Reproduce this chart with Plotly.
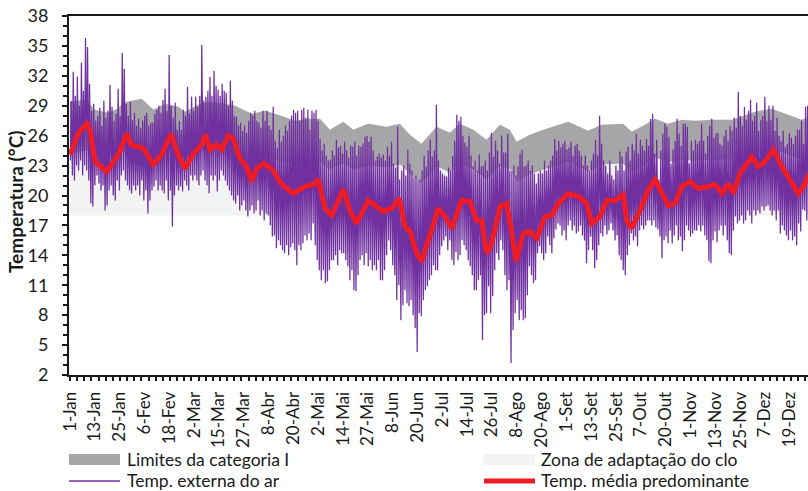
import plotly.graph_objects as go

# ---------------- data ----------------
# daily maximum / minimum of the outdoor air temperature, day 0 = 1-Jan
tmax = [
    29.5, 32.4, 30.0, 31.9, 29.0, 33.3, 30.5, 35.8, 34.9, 31.2,
    28.5, 29.2, 27.5, 28.0, 28.8, 27.0, 29.5, 27.8, 28.5, 31.1,
    28.9, 27.5, 28.2, 30.7, 28.0, 34.3, 32.7, 29.2, 28.0, 29.4,
    27.6, 28.3, 27.0, 27.7, 26.8, 27.5, 28.0, 28.3, 27.0, 27.3,
    27.3, 28.2, 28.6, 29.0, 28.3, 29.6, 30.7, 28.5, 34.1, 29.0,
    27.8, 29.3, 26.6, 27.5, 26.6, 28.6, 28.0, 30.9, 28.2, 29.9,
    28.5, 29.9, 28.9, 30.0, 35.1, 29.5, 29.9, 30.5, 31.9, 30.0,
    32.5, 31.0, 30.6, 30.0, 31.2, 30.5, 30.3, 29.0, 31.5, 29.5,
    28.0, 27.9, 27.0, 27.3, 26.5, 27.0, 26.3, 27.5, 28.3, 28.0,
    28.5, 27.5, 27.3, 26.8, 28.5, 27.5, 28.5, 27.0, 26.6, 28.9,
    25.5, 24.8, 26.6, 25.4, 26.0, 27.0, 26.5, 27.5, 28.0, 28.6,
    28.3, 28.5, 27.5, 28.6, 28.8, 27.8, 28.6, 26.6, 28.5, 28.3,
    28.6, 27.5, 25.7, 24.5, 25.2, 24.0, 23.5, 23.6, 24.5, 24.0,
    25.6, 24.8, 25.0, 24.2, 25.4, 24.5, 23.8, 25.0, 24.9, 25.4,
    24.0, 25.0, 24.9, 25.2, 25.9, 26.0, 25.4, 25.9, 24.5, 23.5,
    23.9, 24.2, 23.8, 24.1, 23.5, 24.9, 24.0, 25.4, 23.2, 22.8,
    26.9, 21.6, 22.5, 23.0, 22.0, 24.6, 23.2, 22.5, 21.8, 22.0,
    21.5, 21.6, 22.5, 24.0, 22.9, 24.5, 25.6, 23.9, 24.5, 29.1,
    23.5, 22.5, 22.2, 22.0, 21.9, 22.8, 22.5, 24.0, 25.5, 28.1,
    27.5, 27.9, 26.0, 25.3, 24.9, 26.0, 24.0, 22.9, 23.5, 22.5,
    24.1, 22.9, 23.0, 23.5, 22.5, 24.3, 26.3, 23.9, 25.5, 24.5,
    23.2, 26.0, 24.3, 24.3, 26.2, 22.5, 22.4, 23.0, 22.0, 22.9,
    24.2, 24.6, 22.9, 23.0, 23.5, 22.5, 23.0, 22.2, 21.2, 22.2,
    22.5, 22.2, 23.5, 22.5, 23.0, 23.5, 24.0, 25.7, 24.5, 25.5,
    24.8, 25.2, 25.5, 24.6, 24.8, 25.4, 24.0, 25.0, 25.2, 24.5,
    24.0, 23.0, 24.0, 23.0, 22.5, 23.5, 24.2, 25.6, 24.0, 28.0,
    25.2, 23.5, 23.0, 22.2, 23.5, 22.0, 21.6, 23.0, 22.5, 24.4,
    23.9, 22.5, 24.4, 24.9, 23.5, 25.2, 24.5, 26.2, 24.2, 25.6,
    25.0, 24.5, 25.7, 25.0, 27.7, 28.2, 24.2, 25.6, 21.6, 24.5,
    26.2, 27.2, 26.9, 25.9, 23.2, 24.6, 25.5, 27.7, 26.2, 25.0,
    27.2, 27.2, 26.9, 23.2, 25.5, 24.5, 25.6, 25.2, 25.5, 27.2,
    25.5, 24.2, 26.0, 27.0, 27.7, 25.8, 26.2, 26.3, 25.2, 25.0,
    26.0, 26.6, 25.5, 27.0, 26.5, 27.8, 26.8, 30.4, 28.0, 27.0,
    28.9, 27.6, 28.5, 29.6, 27.5, 28.0, 29.3, 26.5, 27.6, 28.0,
    29.9, 27.5, 29.0, 27.6, 29.0, 26.5, 27.8, 26.0, 25.5, 26.5,
    24.9, 25.2, 26.3, 25.8, 25.2, 26.0, 26.6, 26.6, 27.5, 25.2,
    28.9, 29.0, 27.9, 27.0, 28.0,
]
tmin = [
    23.5, 22.0, 21.5, 23.0, 22.5, 23.5, 22.0, 23.0, 22.5, 21.5,
    19.2, 18.9, 21.0, 22.0, 21.2, 20.5, 21.0, 18.5, 19.0, 20.5,
    21.0, 20.0, 19.5, 21.5, 20.5, 22.0, 22.5, 21.5, 21.0, 20.5,
    20.2, 21.0, 20.5, 21.0, 20.0, 21.5, 19.5, 20.5, 18.2, 19.5,
    20.5, 20.9, 21.5, 20.5, 21.0, 20.5, 20.2, 21.5, 19.5, 20.5,
    16.9, 20.0, 21.0, 20.5, 20.9, 20.4, 21.5, 21.0, 20.5, 22.0,
    21.5, 22.0, 21.5, 21.0, 22.0, 22.5, 21.5, 21.0, 20.2, 22.0,
    21.5, 22.0, 20.4, 21.5, 22.5, 22.0, 21.5, 21.0, 20.5, 20.0,
    19.5, 19.2, 20.0, 18.5, 19.0, 19.5, 18.5, 17.9, 18.5, 19.0,
    18.2, 18.5, 19.5, 18.0, 18.5, 17.5, 18.2, 18.0, 17.0, 15.9,
    16.0, 14.7, 15.5, 15.0, 14.5, 14.2, 15.0, 14.0, 14.8, 15.2,
    14.5, 13.0, 15.0, 14.5, 15.2, 16.0, 15.5, 16.2, 15.5, 17.2,
    15.0, 13.5, 12.5, 11.5, 12.5, 11.2, 11.4, 12.5, 13.5, 13.5,
    14.0, 13.0, 14.5, 14.2, 14.2, 13.5, 12.9, 11.5, 12.5, 10.5,
    10.4, 12.0, 13.5, 14.0, 13.0, 14.2, 12.9, 13.5, 12.5, 13.0,
    12.5, 13.5, 11.5, 11.5, 12.5, 14.0, 15.5, 14.5, 13.0, 12.0,
    9.5, 11.0, 7.5, 9.0, 10.5, 9.2, 8.9, 9.5, 8.0, 6.7,
    4.3, 8.2, 7.9, 9.5, 10.5, 10.9, 11.5, 12.0, 13.0, 12.5,
    12.5, 14.0, 14.9, 15.5, 15.9, 14.5, 15.5, 13.5, 13.0, 14.3,
    13.5, 14.0, 15.5, 15.0, 14.5, 13.5, 12.9, 12.0, 10.5, 10.5,
    11.5, 12.0, 5.5, 8.0, 8.2, 10.9, 8.2, 9.9, 12.5, 14.2,
    13.5, 15.5, 14.5, 12.0, 10.5, 11.5, 3.2, 6.5, 8.2, 9.5,
    7.5, 8.5, 7.5, 7.7, 10.0, 12.9, 12.0, 11.2, 11.5, 14.2,
    14.9, 14.2, 13.5, 14.2, 15.9, 15.0, 14.2, 15.7, 16.6, 17.2,
    17.0, 16.0, 16.5, 15.5, 17.0, 17.5, 16.5, 17.0, 16.2, 16.4,
    17.0, 16.0, 15.5, 13.2, 14.5, 15.9, 14.5, 12.7, 13.5, 15.0,
    16.2, 15.9, 17.0, 16.1, 16.5, 17.2, 16.5, 15.5, 16.0, 14.0,
    13.5, 12.5, 12.0, 14.0, 15.0, 16.2, 15.5, 15.9, 14.9, 16.5,
    17.0, 16.6, 17.0, 17.5, 17.5, 17.0, 17.5, 16.8, 16.6, 15.9,
    13.7, 15.5, 15.9, 15.2, 16.5, 15.2, 16.0, 17.0, 15.5, 15.9,
    14.4, 15.5, 17.0, 16.5, 15.9, 16.2, 16.5, 16.5, 17.0, 16.4,
    17.0, 16.0, 15.5, 13.4, 13.2, 15.5, 16.4, 15.3, 16.5, 17.0,
    16.0, 17.0, 15.5, 14.2, 14.0, 16.5, 17.9, 17.2, 17.5, 18.0,
    17.2, 17.5, 18.5, 18.0, 17.2, 18.5, 18.0, 18.5, 18.2, 18.9,
    18.5, 18.9, 19.0, 18.5, 18.0, 18.5, 17.5, 18.5, 16.2, 17.0,
    16.5, 16.0, 15.5, 16.5, 15.5, 15.9, 15.0, 17.2, 16.4, 18.6,
    18.5, 17.5, 19.0, 19.0, 19.5,
]

# running mean temperature (Temp. média predominante): day -> value
trm_day = [0, 4, 8.2, 9.8, 12.3, 18, 23.7, 27.8, 30, 36, 40.8, 45, 49.5, 53, 56.4,
           60.5, 64.5, 66.5, 68.6, 71.9, 74.3, 77.6, 80, 83.3, 86.6, 89, 91.5, 94.8,
           98.9, 103.8, 109.5, 115.2, 119.3, 121.7, 125, 128.3, 134, 137.3, 140.5,
           146.2, 153.6, 157.7, 161.4, 164.2, 166.7, 170, 172.4, 175.6, 180.5, 183.8,
           187.1, 192, 196, 199.3, 201.8, 204.3, 206.7, 210.8, 214, 216.5, 218.6,
           222.2, 225.5, 228.8, 232.8, 236.1, 239.4, 244.3, 249.2, 253.3, 255.7,
           259.8, 263.1, 267.2, 271.2, 272.9, 275.3, 279.4, 283.5, 286.8, 290,
           293.3, 296.6, 299.8, 303.9, 308, 312.9, 316.2, 319.5, 322.7, 325.1,
           328.4, 334.2, 337.4, 340.7, 344.8, 348.9, 352.9, 357, 359.5, 361.6, 364]
trm_val = [24.1, 26.2, 27.2, 26.6, 23.4, 22.4, 24.1, 26.2, 25.1, 24.7, 23.1, 24.1, 26.2,
           24.1, 22.7, 24.2, 25.1, 26.1, 24.6, 25.1, 24.6, 26.0, 25.7, 23.7, 22.9, 21.4,
           22.7, 23.2, 22.7, 21.1, 20.2, 20.9, 21.1, 21.6, 18.7, 18.0, 20.6, 18.4, 17.2,
           19.5, 18.4, 18.7, 19.7, 16.9, 16.4, 14.2, 13.4, 15.5, 18.7, 17.9, 16.7, 19.5,
           19.4, 17.5, 17.5, 14.2, 15.2, 18.9, 19.2, 16.4, 13.4, 16.2, 16.4, 15.7, 17.9,
           18.0, 19.2, 20.2, 19.9, 19.2, 17.2, 17.9, 19.5, 19.5, 20.1, 17.5, 16.7, 18.5,
           20.6, 21.6, 20.2, 19.0, 19.2, 20.9, 21.4, 20.7, 20.9, 21.1, 20.2, 21.2, 20.2,
           22.2, 23.9, 22.9, 23.4, 24.6, 22.9, 21.6, 20.2, 20.9, 21.9, 22.5]

# category I limits (upper / lower)
up_day = [0, 7.4, 12.3, 18.8, 22.1, 27.8, 35.1, 40.9, 46.6, 53.1, 56.4, 62.9, 67.8, 76,
          80.9, 89.1, 95.6, 102.1, 110.3, 117.6, 122.5, 127.4, 134, 138.8, 146.2, 155.2,
          161.7, 166.6, 172.3, 179.7, 186.2, 191.1, 197.7, 204.2, 210.7, 215.6, 218.9,
          225.4, 232, 239.3, 244.2, 254, 260.6, 271.2, 275.3, 281.8, 286.7, 293.3,
          299.8, 306.3, 314.5, 324.3, 329.2, 335.7, 343.9, 352.1, 358.6, 364]
up_val = [29.4, 29.6, 28.6, 28.3, 28.6, 29.4, 29.7, 28.6, 29.2, 28.9, 28.4, 29.1, 29.4,
          29.2, 29.0, 28.2, 28.5, 28.1, 27.5, 27.7, 27.7, 26.6, 27.4, 26.6, 27.2, 26.9,
          27.2, 26.1, 25.2, 26.9, 26.3, 27.2, 26.6, 25.6, 27.1, 26.6, 25.4, 26.1, 26.6,
          27.1, 27.4, 26.5, 27.1, 27.2, 26.4, 27.1, 27.7, 27.2, 27.6, 27.5, 27.6, 27.6,
          27.9, 28.4, 28.7, 28.1, 27.6, 27.9]
low_day = [0, 8, 14, 19, 28, 35, 41, 47, 53, 57, 63, 68, 76, 81, 89, 96, 102, 110, 119,
           123, 127, 134, 139, 146, 155, 162, 167, 172, 180, 186, 191, 198, 204, 211,
           216, 219, 225, 232, 239, 244, 254, 261, 271, 275, 282, 287, 293, 300, 306,
           315, 324, 329, 336, 344, 352, 359, 364]
low_val = [24.2, 24.5, 24.3, 24.0, 24.5, 24.6, 24.2, 24.5, 24.4, 24.1, 24.4, 24.6, 24.5,
           24.3, 23.6, 23.8, 23.5, 23.1, 23.0, 23.3, 22.6, 23.2, 22.6, 23.0, 22.8, 23.1,
           22.1, 21.2, 22.9, 22.3, 23.2, 22.6, 21.6, 23.0, 22.6, 21.4, 22.1, 22.6, 23.0,
           23.4, 22.4, 23.1, 23.2, 22.4, 23.1, 23.8, 23.3, 23.6, 23.5, 23.6, 23.6, 23.9,
           24.4, 24.7, 24.1, 23.6, 23.9]

zone_floor = 18  # lower edge of the clo adaptation zone (°C)

tick_labels = ["1-Jan", "13-Jan", "25-Jan", "6-Fev", "18-Fev", "2-Mar", "15-Mar",
               "27-Mar", "8-Abr", "20-Abr", "2-Mai", "14-Mai", "27-Mai", "8-Jun",
               "20-Jun", "2-Jul", "14-Jul", "26-Jul", "8-Ago", "20-Ago", "1-Set",
               "13-Set", "25-Set", "7-Out", "20-Out", "1-Nov", "13-Nov", "25-Nov",
               "7-Dez", "19-Dez"]
label_step_hours = 292
y_ticks = [2, 5, 8, 11, 14, 17, 20, 23, 26, 29, 32, 35, 38]

# ---------------- build figure ----------------
FONT = "Lato"
TXT = "#1a1a1a"
PURPLE = "#7030A0"
RED = "#EE1C25"
DARK = "#A6A6A8"
LIGHT = "#F2F3F3"

# hourly-like outdoor curve: daily minimum early morning, maximum in afternoon
ext_x, ext_y = [], []
for d in range(len(tmax)):
    ext_x += [d + 0.2, d + 0.6]
    ext_y += [tmin[d], tmax[d]]

fig = go.Figure()

# light grey adaptation zone (from floor to upper limit)
fig.add_trace(go.Scatter(
    x=up_day + up_day[::-1], y=up_val + [zone_floor] * len(up_day),
    fill="toself", fillcolor=LIGHT, line=dict(width=0), mode="lines",
    hoverinfo="skip", showlegend=False))

# dark grey category I band
fig.add_trace(go.Scatter(
    x=up_day + low_day[::-1], y=up_val + low_val[::-1],
    fill="toself", fillcolor=DARK, line=dict(width=0), mode="lines",
    hoverinfo="skip", showlegend=False))

fig.add_trace(go.Scatter(
    x=ext_x, y=ext_y, mode="lines", line=dict(color=PURPLE, width=1.25),
    showlegend=False))

fig.add_trace(go.Scatter(
    x=trm_day, y=trm_val, mode="lines", line=dict(color=RED, width=5),
    showlegend=False))

L, R, T, B = 69, 808, 16, 375
PX_PER_DAY = 2.04
x0 = -(70 - L) / PX_PER_DAY
x1 = x0 + (R - L) / PX_PER_DAY


def px(xp):
    return (xp - L) / (R - L)


def py(yp):
    return (B - yp) / (B - T)


tickvals = [k * label_step_hours / 24 for k in range(len(tick_labels))]

fig.update_layout(
    width=808, height=491,
    margin=dict(l=L, r=808 - R, t=T, b=491 - B),
    paper_bgcolor="white", plot_bgcolor="white",
    font=dict(family=FONT, size=17, color=TXT),
    showlegend=False,
)
fig.update_xaxes(
    range=[x0, x1], tickmode="array", tickvals=tickvals, ticktext=tick_labels,
    tickangle=-90, ticks="outside", ticklen=0, tickcolor=TXT,
    showline=True, linecolor=TXT, linewidth=2, mirror=True,
    showgrid=False, zeroline=False, ticklabelstandoff=8,
    tickfont=dict(family=FONT, size=17, color=TXT),
    minor=dict(ticks="outside", dtick=3.5, tick0=0, ticklen=4, tickwidth=1.5,
               tickcolor=TXT, showgrid=False),
)
fig.update_yaxes(
    range=[2, 38], tickmode="array", tickvals=y_ticks,
    ticks="outside", ticklen=5, tickwidth=2, tickcolor=TXT,
    showline=True, linecolor=TXT, linewidth=2,
    showgrid=False, zeroline=False, ticklabelstandoff=10,
    tickfont=dict(family=FONT, size=18, color=TXT),
    minor=dict(ticks="outside", dtick=1, tick0=2, ticklen=4, tickwidth=1.5,
               tickcolor=TXT, showgrid=False),
)

# y axis title
fig.add_annotation(
    text="<b>Temperatura (°C)</b>", xref="paper", yref="paper",
    x=px(16), y=py(202), textangle=-90, showarrow=False,
    xanchor="center", yanchor="middle", font=dict(family=FONT, size=19, color=TXT))

# legend drawn by hand (2 x 2)
shapes = []
shapes.append(dict(type="rect", xref="paper", yref="paper",
                   x0=px(69), x1=px(120), y0=py(465), y1=py(454),
                   fillcolor=DARK, line=dict(width=0)))
shapes.append(dict(type="rect", xref="paper", yref="paper",
                   x0=px(483), x1=px(535), y0=py(465), y1=py(454),
                   fillcolor=LIGHT, line=dict(width=0)))
shapes.append(dict(type="line", xref="paper", yref="paper",
                   x0=px(69), x1=px(120), y0=py(481), y1=py(481),
                   line=dict(color=PURPLE, width=1.5)))
shapes.append(dict(type="line", xref="paper", yref="paper",
                   x0=px(484), x1=px(535), y0=py(481), y1=py(481),
                   line=dict(color=RED, width=5)))
fig.update_layout(shapes=shapes)

for txt, xp, yp in [("Limites da categoria I", 125, 459),
                    ("Zona de adaptação do clo", 539, 459),
                    ("Temp. externa do ar", 125, 480),
                    ("Temp. média predominante", 539, 480)]:
    fig.add_annotation(text=txt, xref="paper", yref="paper", x=px(xp), y=py(yp),
                       xanchor="left", yanchor="middle", showarrow=False,
                       font=dict(family=FONT, size=17.5, color=TXT))

fig.write_html("out.html")
